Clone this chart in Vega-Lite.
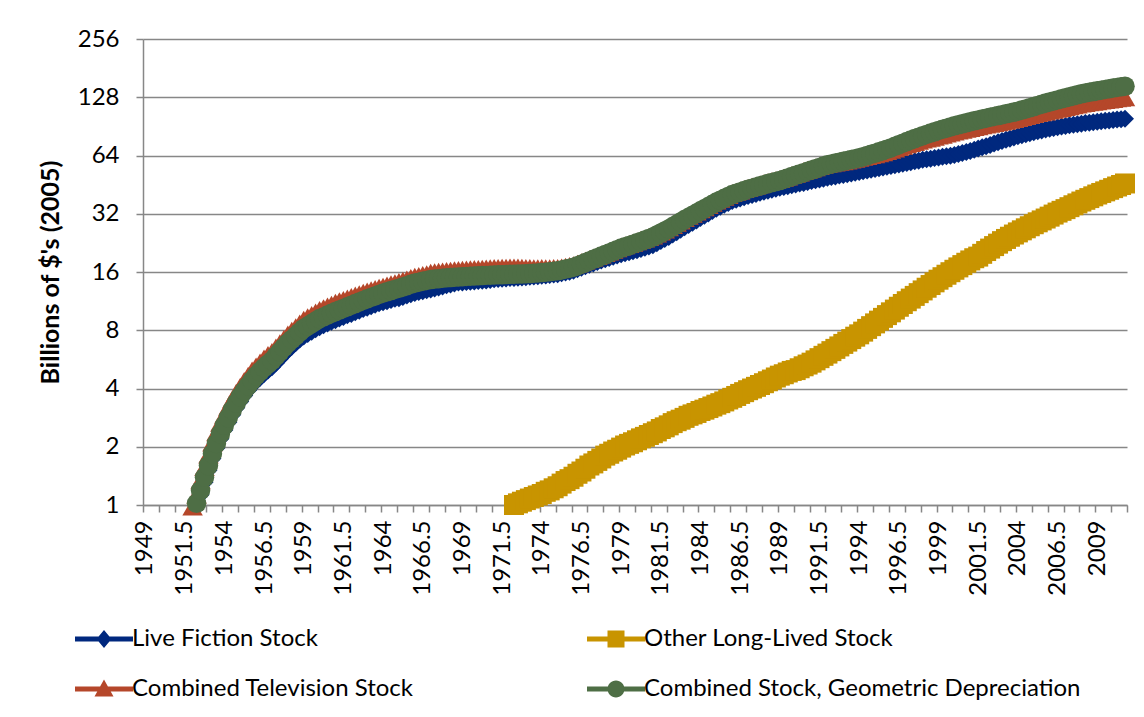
{
"$schema":"https://vega.github.io/schema/vega-lite/v6.json",
"width":984,"height":466,
"autosize":"none",
"padding":{"left":143,"top":39,"right":17,"bottom":212},
"background":"white",
"config":{"view":{"stroke":null},"font":"Lato"},
"data":{"values":[
{"t":1952,"c":0.98},
{"t":1952.25,"c":1.13,"d":1.02},
{"t":1952.5,"a":1.13,"c":1.34,"d":1.19},
{"t":1952.75,"a":1.31,"c":1.57,"d":1.39},
{"t":1953,"a":1.51,"c":1.82,"d":1.6},
{"t":1953.25,"a":1.74,"c":2.1,"d":1.84},
{"t":1953.5,"a":1.97,"c":2.37,"d":2.08},
{"t":1953.75,"a":2.2,"c":2.66,"d":2.33},
{"t":1954,"a":2.44,"c":2.92,"d":2.58},
{"t":1954.25,"a":2.68,"c":3.21,"d":2.83},
{"t":1954.5,"a":2.93,"c":3.51,"d":3.1},
{"t":1954.75,"a":3.18,"c":3.81,"d":3.36},
{"t":1955,"a":3.43,"c":4.09,"d":3.63},
{"t":1955.25,"a":3.68,"c":4.38,"d":3.89},
{"t":1955.5,"a":3.92,"c":4.66,"d":4.14},
{"t":1955.75,"a":4.15,"c":4.96,"d":4.41},
{"t":1956,"a":4.35,"c":5.21,"d":4.66},
{"t":1956.25,"a":4.55,"c":5.46,"d":4.89},
{"t":1956.5,"a":4.75,"c":5.73,"d":5.13},
{"t":1956.75,"a":4.95,"c":5.97,"d":5.35},
{"t":1957,"a":5.15,"c":6.19,"d":5.58},
{"t":1957.25,"a":5.41,"c":6.52,"d":5.88},
{"t":1957.5,"a":5.7,"c":6.87,"d":6.19},
{"t":1957.75,"a":6,"c":7.23,"d":6.52},
{"t":1958,"a":6.31,"c":7.62,"d":6.87},
{"t":1958.25,"a":6.58,"c":7.96,"d":7.17},
{"t":1958.5,"a":6.87,"c":8.31,"d":7.49},
{"t":1958.75,"a":7.17,"c":8.67,"d":7.82},
{"t":1959,"a":7.43,"c":9.07,"d":8.17},
{"t":1959.25,"a":7.65,"c":9.34,"d":8.41},
{"t":1959.5,"a":7.87,"c":9.6,"d":8.66},
{"t":1959.75,"a":8.1,"c":9.89,"d":8.92},
{"t":1960,"a":8.3,"c":10.19,"d":9.19},
{"t":1960.25,"a":8.48,"c":10.41,"d":9.38},
{"t":1960.5,"a":8.67,"c":10.63,"d":9.58},
{"t":1960.75,"a":8.85,"c":10.85,"d":9.78},
{"t":1961,"a":9.02,"c":11.1,"d":9.99},
{"t":1961.25,"a":9.2,"c":11.3,"d":10.18},
{"t":1961.5,"a":9.38,"c":11.5,"d":10.37},
{"t":1961.75,"a":9.57,"c":11.7,"d":10.57},
{"t":1962,"a":9.7,"c":11.9,"d":10.78},
{"t":1962.25,"a":9.9,"c":12.1,"d":10.99},
{"t":1962.5,"a":10.1,"c":12.3,"d":11.2},
{"t":1962.75,"a":10.3,"c":12.5,"d":11.41},
{"t":1963,"a":10.45,"c":12.7,"d":11.63},
{"t":1963.25,"a":10.66,"c":12.9,"d":11.83},
{"t":1963.5,"a":10.85,"c":13.1,"d":12.04},
{"t":1963.75,"a":11.04,"c":13.3,"d":12.25},
{"t":1964,"a":11.16,"c":13.46,"d":12.47},
{"t":1964.25,"a":11.31,"c":13.64,"d":12.64},
{"t":1964.5,"a":11.47,"c":13.83,"d":12.82},
{"t":1964.75,"a":11.64,"c":14.03,"d":13},
{"t":1965,"a":11.72,"c":14.22,"d":13.18},
{"t":1965.25,"a":11.9,"c":14.45,"d":13.39},
{"t":1965.5,"a":12.09,"c":14.67,"d":13.6},
{"t":1965.75,"a":12.28,"c":14.9,"d":13.81},
{"t":1966,"a":12.47,"c":15.14,"d":14.03},
{"t":1966.25,"a":12.61,"c":15.3,"d":14.18},
{"t":1966.5,"a":12.73,"c":15.45,"d":14.32},
{"t":1966.75,"a":12.86,"c":15.61,"d":14.47},
{"t":1967,"a":13,"c":15.89,"d":14.62},
{"t":1967.25,"a":13.15,"c":15.98,"d":14.7},
{"t":1967.5,"a":13.3,"c":16.05,"d":14.77},
{"t":1967.75,"a":13.45,"c":16.14,"d":14.85},
{"t":1968,"a":13.65,"c":16.23,"d":14.93},
{"t":1968.25,"a":13.8,"c":16.28,"d":14.98},
{"t":1968.5,"a":13.95,"c":16.34,"d":15.03},
{"t":1968.75,"a":14.1,"c":16.39,"d":15.08},
{"t":1969,"a":14.13,"c":16.46,"d":15.14},
{"t":1969.25,"a":14.2,"c":16.5,"d":15.18},
{"t":1969.5,"a":14.25,"c":16.54,"d":15.22},
{"t":1969.75,"a":14.3,"c":16.59,"d":15.26},
{"t":1970,"a":14.36,"c":16.62,"d":15.29},
{"t":1970.25,"a":14.42,"c":16.66,"d":15.33},
{"t":1970.5,"a":14.48,"c":16.71,"d":15.37},
{"t":1970.75,"a":14.55,"c":16.75,"d":15.41},
{"t":1971,"a":14.66,"c":16.79,"d":15.45},
{"t":1971.25,"a":14.72,"c":16.83,"d":15.48},
{"t":1971.5,"a":14.77,"c":16.85,"d":15.5},
{"t":1971.75,"a":14.82,"c":16.88,"d":15.53},
{"t":1972,"a":14.88,"c":16.91,"d":15.56},
{"t":1972.25,"a":14.91,"b":1,"c":16.9,"d":15.58},
{"t":1972.5,"a":14.95,"b":1.02,"c":16.89,"d":15.61},
{"t":1972.75,"a":15,"b":1.04,"c":16.86,"d":15.64},
{"t":1973,"a":15.04,"b":1.06,"c":16.8,"d":15.67},
{"t":1973.25,"a":15.1,"b":1.08,"c":16.79,"d":15.72},
{"t":1973.5,"a":15.16,"b":1.1,"c":16.78,"d":15.77},
{"t":1973.75,"a":15.22,"b":1.12,"c":16.78,"d":15.83},
{"t":1974,"a":15.29,"b":1.14,"c":16.8,"d":15.89},
{"t":1974.25,"a":15.36,"b":1.17,"c":16.78,"d":15.97},
{"t":1974.5,"a":15.45,"b":1.19,"c":16.78,"d":16.06},
{"t":1974.75,"a":15.53,"b":1.22,"c":16.79,"d":16.14},
{"t":1975,"a":15.6,"b":1.25,"c":16.79,"d":16.22},
{"t":1975.25,"a":15.76,"b":1.29,"c":16.93,"d":16.39},
{"t":1975.5,"a":15.91,"b":1.33,"c":17.07,"d":16.56},
{"t":1975.75,"a":16.07,"b":1.36,"c":17.23,"d":16.73},
{"t":1976,"a":16.23,"b":1.4,"c":17.38,"d":16.91},
{"t":1976.25,"a":16.53,"b":1.45,"c":17.69,"d":17.24},
{"t":1976.5,"a":16.82,"b":1.49,"c":17.99,"d":17.57},
{"t":1976.75,"a":17.12,"b":1.54,"c":18.3,"d":17.91},
{"t":1977,"a":17.43,"b":1.6,"c":18.63,"d":18.25},
{"t":1977.25,"a":17.72,"b":1.64,"c":18.97,"d":18.6},
{"t":1977.5,"a":18.01,"b":1.69,"c":19.32,"d":18.96},
{"t":1977.75,"a":18.32,"b":1.74,"c":19.68,"d":19.33},
{"t":1978,"a":18.62,"b":1.8,"c":20.03,"d":19.7},
{"t":1978.25,"a":18.9,"b":1.84,"c":20.42,"d":20.08},
{"t":1978.5,"a":19.19,"b":1.89,"c":20.82,"d":20.47},
{"t":1978.75,"a":19.48,"b":1.93,"c":21.21,"d":20.86},
{"t":1979,"a":19.77,"b":1.98,"c":21.62,"d":21.26},
{"t":1979.25,"a":19.99,"b":2.03,"c":21.96,"d":21.59},
{"t":1979.5,"a":20.23,"b":2.07,"c":22.3,"d":21.93},
{"t":1979.75,"a":20.48,"b":2.11,"c":22.66,"d":22.28},
{"t":1980,"a":20.71,"b":2.16,"c":23.01,"d":22.63},
{"t":1980.25,"a":21.03,"b":2.21,"c":23.42,"d":23.03},
{"t":1980.5,"a":21.34,"b":2.25,"c":23.83,"d":23.43},
{"t":1980.75,"a":21.69,"b":2.3,"c":24.25,"d":23.84},
{"t":1981,"a":22.02,"b":2.35,"c":24.66,"d":24.25},
{"t":1981.25,"a":22.56,"b":2.4,"c":25.27,"d":24.85},
{"t":1981.5,"a":23.11,"b":2.47,"c":25.88,"d":25.45},
{"t":1981.75,"a":23.67,"b":2.52,"c":26.51,"d":26.07},
{"t":1982,"a":24.26,"b":2.58,"c":27.17,"d":26.72},
{"t":1982.25,"a":24.97,"b":2.65,"c":27.94,"d":27.47},
{"t":1982.5,"a":25.69,"b":2.71,"c":28.71,"d":28.23},
{"t":1982.75,"a":26.44,"b":2.76,"c":29.51,"d":29.02},
{"t":1983,"a":27.23,"b":2.82,"c":30.37,"d":29.86},
{"t":1983.25,"a":27.99,"b":2.89,"c":31.16,"d":30.64},
{"t":1983.5,"a":28.77,"b":2.94,"c":31.97,"d":31.44},
{"t":1983.75,"a":29.57,"b":2.99,"c":32.81,"d":32.26},
{"t":1984,"a":30.41,"b":3.06,"c":33.69,"d":33.13},
{"t":1984.25,"a":31.27,"b":3.11,"c":34.57,"d":33.99},
{"t":1984.5,"a":32.13,"b":3.17,"c":35.46,"d":34.87},
{"t":1984.75,"a":33.03,"b":3.23,"c":36.39,"d":35.78},
{"t":1985,"a":34,"b":3.3,"c":37.38,"d":36.76},
{"t":1985.25,"a":34.78,"b":3.36,"c":38.24,"d":37.6},
{"t":1985.5,"a":35.57,"b":3.43,"c":39.1,"d":38.45},
{"t":1985.75,"a":36.37,"b":3.51,"c":39.98,"d":39.32},
{"t":1986,"a":37.2,"b":3.58,"c":40.9,"d":40.22},
{"t":1986.25,"a":37.75,"b":3.66,"c":41.54,"d":40.85},
{"t":1986.5,"a":38.32,"b":3.75,"c":42.19,"d":41.49},
{"t":1986.75,"a":38.9,"b":3.83,"c":42.86,"d":42.14},
{"t":1987,"a":39.47,"b":3.92,"c":43.54,"d":42.81},
{"t":1987.25,"a":40,"b":4,"c":44.15,"d":43.41},
{"t":1987.5,"a":40.53,"b":4.08,"c":44.76,"d":44.01},
{"t":1987.75,"a":41.07,"b":4.17,"c":45.38,"d":44.62},
{"t":1988,"a":41.63,"b":4.26,"c":46.02,"d":45.25},
{"t":1988.25,"a":42.11,"b":4.36,"c":46.58,"d":45.8},
{"t":1988.5,"a":42.6,"b":4.45,"c":47.15,"d":46.36},
{"t":1988.75,"a":43.1,"b":4.56,"c":47.72,"d":46.92},
{"t":1989,"a":43.6,"b":4.66,"c":48.31,"d":47.5},
{"t":1989.25,"a":44,"b":4.74,"c":49.07,"d":48.25},
{"t":1989.5,"a":44.4,"b":4.84,"c":49.84,"d":49.01},
{"t":1989.75,"a":44.9,"b":4.93,"c":50.63,"d":49.78},
{"t":1990,"a":45.3,"b":4.98,"c":51.43,"d":50.57},
{"t":1990.25,"a":45.8,"b":5.09,"c":52.24,"d":51.37},
{"t":1990.5,"a":46.2,"b":5.21,"c":53.07,"d":52.18},
{"t":1990.75,"a":46.7,"b":5.32,"c":53.9,"d":53},
{"t":1991,"a":47.2,"b":5.44,"c":54.73,"d":53.82},
{"t":1991.25,"a":47.7,"b":5.59,"c":55.6,"d":54.67},
{"t":1991.5,"a":48.1,"b":5.74,"c":56.4,"d":55.53},
{"t":1991.75,"a":48.6,"b":5.9,"c":57.2,"d":56.41},
{"t":1992,"a":49.1,"b":6.06,"c":57.85,"d":57.28},
{"t":1992.25,"a":49.5,"b":6.24,"c":58.31,"d":57.88},
{"t":1992.5,"a":49.9,"b":6.41,"c":58.77,"d":58.48},
{"t":1992.75,"a":50.4,"b":6.6,"c":59.25,"d":59.1},
{"t":1993,"a":50.8,"b":6.8,"c":59.71,"d":59.71},
{"t":1993.25,"a":51.2,"b":6.99,"c":60.3,"d":60.34},
{"t":1993.5,"a":51.7,"b":7.2,"c":60.9,"d":60.97},
{"t":1993.75,"a":52.1,"b":7.41,"c":61.55,"d":61.6},
{"t":1994,"a":52.6,"b":7.62,"c":62.2,"d":62.25},
{"t":1994.25,"a":53.1,"b":7.87,"c":62.89,"d":63.11},
{"t":1994.5,"a":53.5,"b":8.13,"c":63.54,"d":63.99},
{"t":1994.75,"a":54,"b":8.4,"c":64.2,"d":64.88},
{"t":1995,"a":54.5,"b":8.68,"c":64.88,"d":65.8},
{"t":1995.25,"a":55,"b":8.97,"c":65.66,"d":66.83},
{"t":1995.5,"a":55.5,"b":9.27,"c":66.45,"d":67.88},
{"t":1995.75,"a":56,"b":9.58,"c":67.39,"d":68.94},
{"t":1996,"a":56.5,"b":9.9,"c":68.36,"d":70.04},
{"t":1996.25,"a":57,"b":10.23,"c":69.49,"d":71.38},
{"t":1996.5,"a":57.5,"b":10.58,"c":70.64,"d":72.75},
{"t":1996.75,"a":58.1,"b":10.93,"c":71.8,"d":74.14},
{"t":1997,"a":58.6,"b":11.3,"c":73,"d":75.58},
{"t":1997.25,"a":59.1,"b":11.66,"c":74.05,"d":76.9},
{"t":1997.5,"a":59.7,"b":12.04,"c":75.11,"d":78.24},
{"t":1997.75,"a":60.2,"b":12.44,"c":76.14,"d":79.6},
{"t":1998,"a":60.8,"b":12.85,"c":77.2,"d":81},
{"t":1998.25,"a":61.2,"b":13.27,"c":78.12,"d":82.27},
{"t":1998.5,"a":61.6,"b":13.7,"c":79.05,"d":83.56},
{"t":1998.75,"a":62.1,"b":14.15,"c":79.99,"d":84.87},
{"t":1999,"a":62.5,"b":14.6,"c":80.96,"d":86.22},
{"t":1999.25,"a":63,"b":15.04,"c":81.87,"d":87.42},
{"t":1999.5,"a":63.4,"b":15.49,"c":82.96,"d":88.63},
{"t":1999.75,"a":63.9,"b":15.96,"c":83.97,"d":89.86},
{"t":2000,"a":64.3,"b":16.43,"c":85.02,"d":91.13},
{"t":2000.25,"a":65.1,"b":16.9,"c":85.92,"d":92.24},
{"t":2000.5,"a":65.9,"b":17.37,"c":86.82,"d":93.36},
{"t":2000.75,"a":66.7,"b":17.86,"c":87.74,"d":94.5},
{"t":2001,"a":67.5,"b":18.36,"c":88.69,"d":95.67},
{"t":2001.25,"a":68.5,"b":18.85,"c":89.61,"d":96.67},
{"t":2001.5,"a":69.5,"b":19.22,"c":90.55,"d":97.68},
{"t":2001.75,"a":70.5,"b":19.86,"c":91.5,"d":98.71},
{"t":2002,"a":71.5,"b":20.53,"c":92.45,"d":99.73},
{"t":2002.25,"a":72.6,"b":21.14,"c":93.22,"d":100.78},
{"t":2002.5,"a":73.8,"b":21.78,"c":94.04,"d":101.83},
{"t":2002.75,"a":74.9,"b":22.42,"c":94.86,"d":102.89},
{"t":2003,"a":76,"b":23.1,"c":95.65,"d":103.97},
{"t":2003.25,"a":77.1,"b":23.71,"c":96.66,"d":105.06},
{"t":2003.5,"a":78.2,"b":24.34,"c":97.67,"d":106.16},
{"t":2003.75,"a":79.4,"b":24.99,"c":98.69,"d":107.27},
{"t":2004,"a":80.5,"b":25.63,"c":99.71,"d":108.38},
{"t":2004.25,"a":81.5,"b":26.27,"c":100.94,"d":109.9},
{"t":2004.5,"a":82.5,"b":26.91,"c":102.17,"d":111.42},
{"t":2004.75,"a":83.5,"b":27.58,"c":103.42,"d":112.97},
{"t":2005,"a":84.5,"b":28.25,"c":104.71,"d":114.56},
{"t":2005.25,"a":85.4,"b":28.9,"c":105.82,"d":116.16},
{"t":2005.5,"a":86.3,"b":29.56,"c":106.88,"d":117.77},
{"t":2005.75,"a":87.1,"b":30.23,"c":107.95,"d":119.41},
{"t":2006,"a":88,"b":30.92,"c":109.11,"d":121.1},
{"t":2006.25,"a":88.8,"b":31.69,"c":110.25,"d":122.57},
{"t":2006.5,"a":89.5,"b":32.46,"c":111.41,"d":124.06},
{"t":2006.75,"a":90.3,"b":33.13,"c":112.57,"d":125.57},
{"t":2007,"a":91,"b":33.81,"c":113.75,"d":127.1},
{"t":2007.25,"a":91.6,"b":34.61,"c":114.95,"d":128.65},
{"t":2007.5,"a":92.3,"b":35.4,"c":116.15,"d":130.21},
{"t":2007.75,"a":92.9,"b":36.19,"c":117.37,"d":131.8},
{"t":2008,"a":93.5,"b":37.01,"c":118.59,"d":133.4},
{"t":2008.25,"a":94.1,"b":37.78,"c":119.42,"d":134.56},
{"t":2008.5,"a":94.6,"b":38.56,"c":120.25,"d":135.72},
{"t":2008.75,"a":95.2,"b":39.37,"c":121.09,"d":136.9},
{"t":2009,"a":95.7,"b":40.23,"c":121.94,"d":138.1},
{"t":2009.25,"a":96.2,"b":40.98,"c":122.78,"d":139.29},
{"t":2009.5,"a":96.7,"b":41.77,"c":123.63,"d":140.49},
{"t":2009.75,"a":97.2,"b":42.56,"c":124.49,"d":141.71},
{"t":2010,"a":97.7,"b":43.41,"c":125.32,"d":142.9},
{"t":2010.25,"a":98.1,"b":44.25,"c":126.2,"d":143.9},
{"t":2010.5,"a":98.6,"b":45.05,"c":127.08,"d":144.9},
{"t":2010.75,"a":99,"b":45.88,"c":127.95,"d":145.9}
]},
"transform":[
{"fold":["a","b","c","d"],"as":["s","v"]},
{"filter":"isValid(datum.v)"}
],
"encoding":{
"x":{"field":"t","type":"quantitative",
 "scale":{"domain":[1948.875,2010.875],"nice":false,"zero":false},
 "axis":{"title":null,"grid":false,
  "values":[1948.875,1949.875,1950.875,1951.875,1952.875,1953.875,1954.875,1955.875,1956.875,1957.875,1958.875,1959.875,1960.875,1961.875,1962.875,1963.875,1964.875,1965.875,1966.875,1967.875,1968.875,1969.875,1970.875,1971.875,1972.875,1973.875,1974.875,1975.875,1976.875,1977.875,1978.875,1979.875,1980.875,1981.875,1982.875,1983.875,1984.875,1985.875,1986.875,1987.875,1988.875,1989.875,1990.875,1991.875,1992.875,1993.875,1994.875,1995.875,1996.875,1997.875,1998.875,1999.875,2000.875,2001.875,2002.875,2003.875,2004.875,2005.875,2006.875,2007.875,2008.875,2009.875,2010.875,1949,1951.5,1954,1956.5,1959,1961.5,1964,1966.5,1969,1971.5,1974,1976.5,1979,1981.5,1984,1986.5,1989,1991.5,1994,1996.5,1999,2001.5,2004,2006.5,2009],
  "format":".1~f",
  "labelExpr":"datum.value % 0.5 === 0 ? datum.label : ''",
  "tickOpacity":{"condition":{"test":"datum.value % 0.5 !== 0","value":1},"value":0},
  "labelAngle":-90,"labelFontSize":24,"labelColor":"#000000","labelFont":"Lato",
  "labelPadding":8,"labelOverlap":false,"labelFlush":false,"labelBound":false,
  "tickSize":7,"tickColor":"#878787","tickWidth":1.5,
  "domainColor":"#878787","domainWidth":1.5}},
"y":{"field":"v","type":"quantitative",
 "scale":{"type":"log","base":2,"domain":[1,256],"nice":false},
 "axis":{"values":[1,2,4,8,16,32,64,128,256],"format":"d",
  "title":"Billions of $'s (2005)","titleFont":"Lato","titleFontSize":25,"titleFontWeight":"bold","titleColor":"#000000","titlePadding":14,
  "labelFontSize":24,"labelColor":"#000000","labelFont":"Lato","labelPadding":17,
  "tickSize":7,"tickColor":"#878787","tickWidth":1.5,
  "domainColor":"#878787","domainWidth":1.5,
  "grid":true,"gridColor":"#878787","gridWidth":1.5}}
},
"layer":[
{"transform":[{"filter":"datum.s === 'a'"}],
 "mark":{"type":"line","color":"#00287E","strokeWidth":5,"clip":false,
  "point":{"shape":"diamond","size":324,"filled":true,"color":"#00287E","opacity":1,"strokeWidth":0}}},
{"transform":[{"filter":"datum.s === 'b'"}],
 "mark":{"type":"line","color":"#C89400","strokeWidth":5,"clip":false,
  "point":{"shape":"square","size":400,"filled":true,"color":"#C89400","opacity":1,"strokeWidth":0}}},
{"transform":[{"filter":"datum.s === 'c'"}],
 "mark":{"type":"line","color":"#B5472A","strokeWidth":5,"clip":false,
  "point":{"shape":"triangle-up","size":420,"filled":true,"color":"#B5472A","opacity":1,"strokeWidth":0}}},
{"transform":[{"filter":"datum.s === 'd'"}],
 "mark":{"type":"line","color":"#4E6E45","strokeWidth":5,"clip":false,
  "point":{"shape":"circle","size":380,"filled":true,"color":"#4E6E45","opacity":1,"strokeWidth":0}}},
{"transform":[{"filter":"datum.v < 0"}],
 "mark":{"type":"point","filled":true,"opacity":1},
 "encoding":{
  "color":{"field":"s","type":"nominal","scale":{"domain":["a","b","c","d"],"range":["#00287E","#C89400","#B5472A","#4E6E45"]},
   "legend":{"title":null,"orient":"none","legendX":-51,"legendY":588,"direction":"horizontal","columns":2,"columnPadding":173,"rowPadding":26,"padding":0,
    "symbolSize":400,"symbolStrokeWidth":0,"symbolOpacity":1,
    "labelFontSize":24,"labelFont":"Lato","labelColor":"#000000","labelOffset":16,"labelLimit":1000,
    "labelExpr":"datum.value === 'a' ? 'Live Fiction Stock' : datum.value === 'b' ? 'Other Long-Lived Stock' : datum.value === 'c' ? 'Combined Television Stock' : 'Combined Stock, Geometric Depreciation'"}},
  "shape":{"field":"s","type":"nominal","scale":{"domain":["a","b","c","d"],
   "range":["M-2.9,-0.25H2.9V0.25H-2.9Z M0,-0.9L0.75,0L0,0.9L-0.75,0Z","M-2.9,-0.25H2.9V0.25H-2.9Z M-0.85,-0.85H0.85V0.85H-0.85Z","M-2.9,-0.25H2.9V0.25H-2.9Z M0,-0.95L0.95,0.75H-0.95Z","M-2.9,-0.25H2.9V0.25H-2.9Z M-0.85,0A0.85,0.85 0 1,1 0.85,0A0.85,0.85 0 1,1 -0.85,0Z"]}}
 }}
]
}
